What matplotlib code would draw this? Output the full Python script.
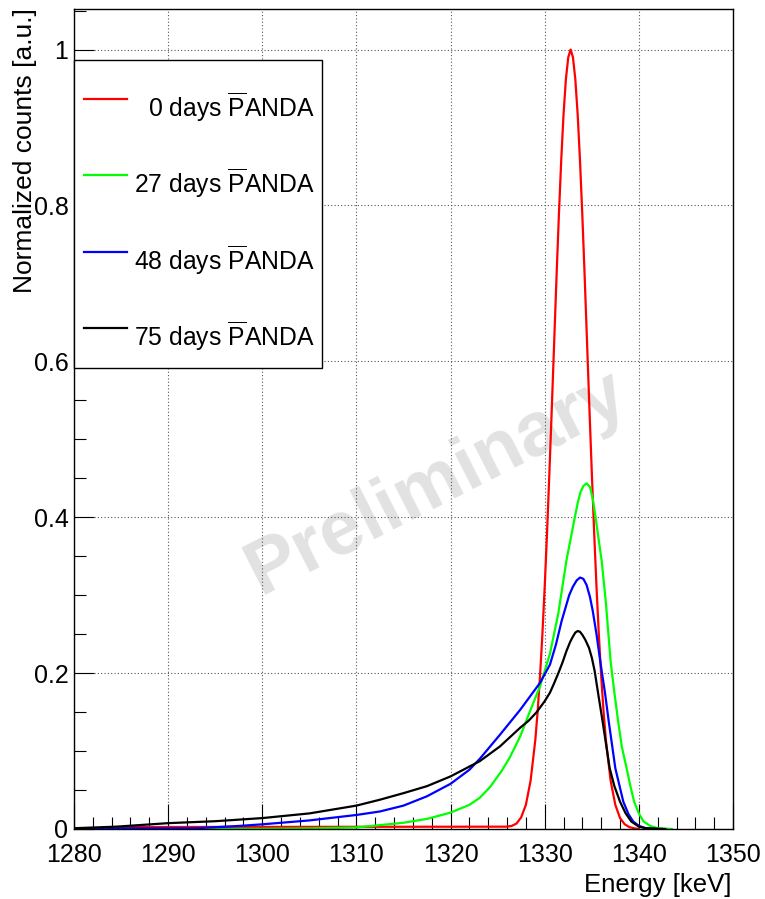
import matplotlib
matplotlib.use("Agg")
import matplotlib.pyplot as plt
from matplotlib.ticker import MultipleLocator, FuncFormatter
from matplotlib.patches import Rectangle
from matplotlib.lines import Line2D

plt.rcParams['font.family'] = ['Liberation Sans', 'DejaVu Sans']
plt.rcParams['mathtext.fontset'] = 'custom'
plt.rcParams['mathtext.rm'] = 'Liberation Sans'
plt.rcParams['mathtext.it'] = 'Liberation Sans:italic'
plt.rcParams['mathtext.bf'] = 'Liberation Sans:bold'

# ---------------- data ----------------
labels = ["0 days", "27 days", "48 days", "75 days"]
colors = ["#ff0000", "#00ff00", "#0000ff", "#000000"]

x_0d = [1284.5, 1326.0, 1326.5, 1327.0, 1327.5, 1328.0, 1328.5, 1329.0, 1329.25, 1329.5,
        1329.75, 1330.0, 1330.25, 1330.5, 1330.75, 1331.0, 1331.25, 1331.5, 1331.75, 1332.0,
        1332.25, 1332.5, 1332.75, 1333.0, 1333.25, 1333.5, 1333.75, 1334.0, 1334.25, 1334.5,
        1334.75, 1335.0, 1335.25, 1335.5, 1335.75, 1336.0, 1336.25, 1336.5, 1337.0, 1337.5,
        1338.0, 1338.5, 1339.0, 1339.5, 1340.0]
y_0d = [0.0025, 0.003, 0.004, 0.007, 0.015, 0.031, 0.062, 0.114, 0.151, 0.196,
        0.249, 0.311, 0.381, 0.458, 0.539, 0.623, 0.707, 0.786, 0.857, 0.917,
        0.962, 0.990, 1.0, 0.990, 0.962, 0.917, 0.857, 0.786, 0.707, 0.623,
        0.539, 0.458, 0.381, 0.311, 0.249, 0.196, 0.151, 0.114, 0.062, 0.031,
        0.014, 0.006, 0.0024, 0.0009, 0.0]

x_27d = [1292, 1300, 1305, 1310, 1312.5, 1315, 1317.5, 1320, 1322, 1323.1,
         1324.2, 1325.4, 1326.3, 1327.4, 1328.4, 1329.5, 1330.56, 1331.45, 1332.3, 1333.2,
         1333.5, 1333.8, 1334.1, 1334.45, 1334.8, 1335.1, 1335.4, 1336.05, 1336.5, 1337.0,
         1337.4, 1337.8, 1338.2, 1338.7, 1339.1, 1339.5, 1340.0, 1340.5, 1341.2, 1342.0,
         1343.5]
y_27d = [0.0, 0.0003, 0.0008, 0.002, 0.005, 0.008, 0.013, 0.021, 0.031, 0.040,
         0.054, 0.074, 0.092, 0.119, 0.150, 0.183, 0.225, 0.277, 0.344, 0.400,
         0.418, 0.432, 0.440, 0.4435, 0.439, 0.424, 0.400, 0.344, 0.290, 0.215,
         0.175, 0.138, 0.105, 0.078, 0.055, 0.035, 0.020, 0.0096, 0.004, 0.001,
         0.0]

x_48d = [1280, 1293, 1297.6, 1300, 1305, 1310, 1312.5, 1315, 1317.5, 1320,
         1322, 1323.1, 1325.25, 1327.4, 1329.5, 1330.56, 1331.2, 1331.8, 1332.6, 1333.0,
         1333.4, 1333.75, 1334.1, 1334.45, 1334.8, 1335.1, 1335.5, 1335.9, 1336.4, 1336.8,
         1337.5, 1338.35, 1338.9, 1339.4, 1340.0, 1340.7, 1342.0]
y_48d = [0.0005, 0.001, 0.004, 0.006, 0.011, 0.018, 0.0225, 0.030, 0.042, 0.058,
         0.076, 0.090, 0.121, 0.153, 0.1875, 0.211, 0.237, 0.267, 0.300, 0.311,
         0.319, 0.3226, 0.321, 0.313, 0.298, 0.280, 0.250, 0.215, 0.175, 0.138,
         0.078, 0.035, 0.019, 0.0096, 0.004, 0.0012, 0.0]

x_75d = [1280, 1284.5, 1290, 1295, 1300, 1305, 1310, 1312.5, 1315, 1317.5,
         1320, 1323.1, 1325.25, 1327.4, 1328.3, 1329.15, 1330.0, 1330.56, 1331.0, 1331.45,
         1331.9, 1332.3, 1332.7, 1333.0, 1333.25, 1333.5, 1333.75, 1334.0, 1334.3, 1334.7,
         1335.0, 1335.3, 1335.7, 1336.15, 1336.9, 1337.4, 1338.0, 1338.6, 1339.2, 1340.0,
         1340.7, 1342.8]
y_75d = [0.001, 0.003, 0.0075, 0.010, 0.014, 0.020, 0.030, 0.0376, 0.046, 0.055,
         0.0675, 0.087, 0.106, 0.130, 0.139, 0.150, 0.164, 0.175, 0.187, 0.200,
         0.214, 0.228, 0.240, 0.247, 0.252, 0.254, 0.253, 0.249, 0.243, 0.2325,
         0.220, 0.203, 0.172, 0.138, 0.078, 0.055, 0.035, 0.020, 0.0096, 0.003,
         0.001, 0.0]

series_x = [x_0d, x_27d, x_48d, x_75d]
series_y = [y_0d, y_27d, y_48d, y_75d]

xlim = (1280, 1350)
ylim = (0, 1.052)

# ---------------- figure ----------------
W, H = 765, 899
fig = plt.figure(figsize=(W / 100, H / 100), dpi=100)
L, R, T, B = 74, 733, 9, 829
ax = fig.add_axes([L / W, 1 - B / H, (R - L) / W, (B - T) / H])

for xs, ys, c in zip(series_x, series_y, colors):
    ax.plot(xs, ys, color=c, lw=1.6, zorder=2, solid_joinstyle='round')

ax.set_xlim(*xlim)
ax.set_ylim(*ylim)
ax.xaxis.set_major_locator(MultipleLocator(10))
ax.xaxis.set_minor_locator(MultipleLocator(2))
ax.yaxis.set_major_locator(MultipleLocator(0.2))
ax.yaxis.set_minor_locator(MultipleLocator(0.05))
ax.yaxis.set_major_formatter(FuncFormatter(lambda v, p: f"{v:g}"))

ax.tick_params(axis='both', which='both', direction='in', top=False, right=False,
               width=0.8, colors='black', labelsize=18)
ax.tick_params(axis='x', which='major', length=18, pad=10)
ax.tick_params(axis='x', which='minor', length=8.5)
ax.tick_params(axis='y', which='major', length=14.5, pad=4)
ax.tick_params(axis='y', which='minor', length=8.5)
for s in ax.spines.values():
    s.set_linewidth(1.0)
    s.set_color('black')

ax.set_axisbelow(True)
ax.grid(True, which='major', linestyle=(0, (1, 2)), color='#555555', lw=0.8)

# watermark
ax.text(0.5516, 0.4226, 'Preliminary', transform=ax.transAxes, rotation=27,
        fontsize=55, fontweight='bold', color='#e2e2e2', ha='center', va='center',
        zorder=0.3)

# legend (ROOT style)
bx0, bx1 = 0.0, (322 - L) / (R - L)
by0, by1 = (B - 368) / (B - T), (B - 60) / (B - T)
ax.add_patch(Rectangle((bx0, by0), bx1 - bx0, by1 - by0, transform=ax.transAxes,
                       facecolor='white', edgecolor='black', lw=1.0, zorder=5, clip_on=False))
line_y_px = [99, 175, 252, 328]
text_base_px = [117, 193, 270, 346]
for lab, c, ly, ty in zip(labels, colors, line_y_px, text_base_px):
    yy = (B - ly) / (B - T)
    ax.add_line(Line2D([(84 - L) / (R - L), (127 - L) / (R - L)], [yy, yy],
                       transform=ax.transAxes, color=c, lw=1.6, zorder=6, clip_on=False))
    ax.text((315 - L) / (R - L), (B - ty) / (B - T),
            lab + r' $\overline{\mathrm{P}}$ANDA', transform=ax.transAxes,
            ha='right', va='baseline', fontsize=17.8, zorder=6)

# axis titles
fig.text(731 / W, 1 - 885 / H, 'Energy [keV]', ha='right', va='center', fontsize=18.5)
fig.text(25 / W, 1 - 8 / H, 'Normalized counts [a.u.]', rotation=90,
         ha='center', va='top', fontsize=19)

fig.savefig('out.png', dpi=100)
